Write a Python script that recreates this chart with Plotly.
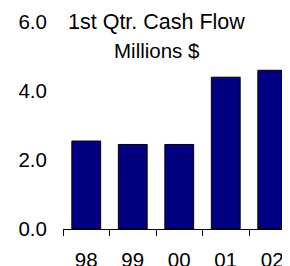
import plotly.graph_objects as go

categories = ["98", "99", "00", "01", "02"]
cash_flow = [2.55, 2.45, 2.45, 4.4, 4.6]
y_ticks = [0, 2, 4, 6]
title_line1 = "1st Qtr. Cash Flow"
title_line2 = "Millions $"

FONT = "Liberation Sans, Arial, sans-serif"
OFF = 8  # default page body margin
W, H = 290, 266
L, R, T, B = 63 - OFF, 0, 22 - OFF, 266 - (229 - OFF)

fig = go.Figure(go.Bar(
    x=categories, y=cash_flow, width=0.62,
    marker=dict(color="#000080", line=dict(color="black", width=1)),
))

pw = W - L - R
ph = H - T - B

fig.update_layout(
    width=W, height=H,
    margin=dict(l=L, r=R, t=T, b=B, pad=0, autoexpand=False),
    plot_bgcolor="white", paper_bgcolor="white",
    showlegend=False,
    font=dict(family=FONT, size=20.5, color="black"),
    xaxis=dict(
        type="category",
        automargin=False,
        range=[-0.5, -0.5 + pw / 46.5],
        showline=True, linecolor="black", linewidth=1,
        ticks="outside", ticklen=6, tickcolor="black", tickwidth=1,
        tickson="boundaries",
        ticklabelstandoff=12,
        showgrid=False, zeroline=False,
        tickfont=dict(family=FONT, size=20.5),
    ),
    yaxis=dict(
        automargin=False,
        range=[0, 6],
        tickvals=y_ticks,
        tickformat=".1f",
        showline=False, showgrid=False, zeroline=False,
        ticks="outside", ticklen=11, tickcolor="rgba(0,0,0,0)",
        tickfont=dict(family=FONT, size=20.5),
    ),
    annotations=[
        dict(text=title_line1, xref="paper", yref="paper",
             x=(156 - OFF - L) / pw, y=1 - (22 - OFF - T) / ph,
             xanchor="center", yanchor="middle",
             showarrow=False, font=dict(family=FONT, size=21.5)),
        dict(text=title_line2, xref="paper", yref="paper",
             x=(157 - OFF - L) / pw, y=1 - (51 - OFF - T) / ph,
             xanchor="center", yanchor="middle",
             showarrow=False, font=dict(family=FONT, size=20.5)),
    ],
)

fig.write_html("out.html")
